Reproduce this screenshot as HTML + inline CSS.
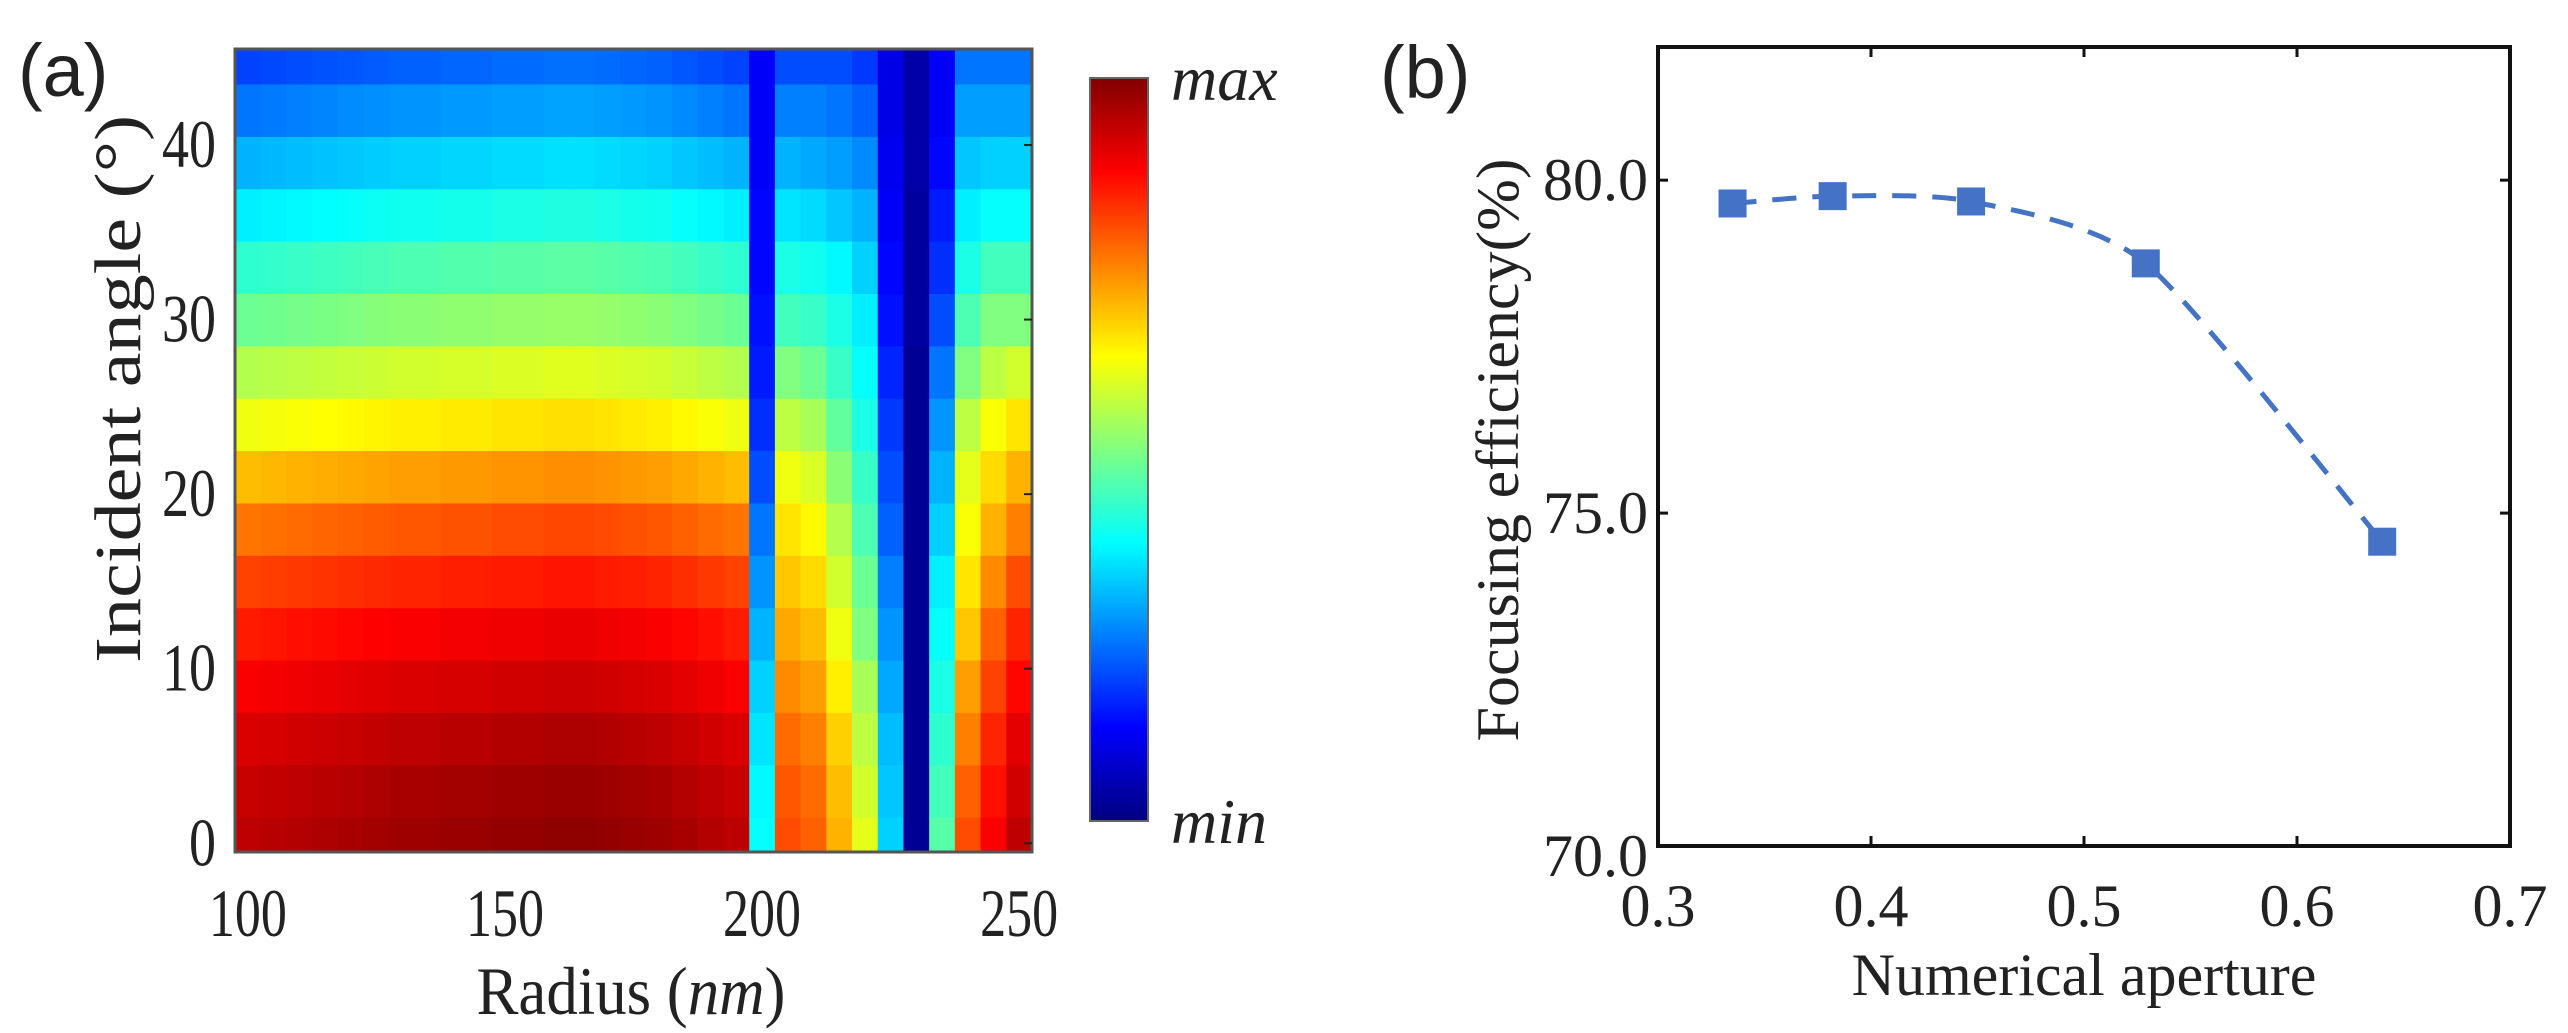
<!DOCTYPE html>
<html><head><meta charset="utf-8"><style>
html,body{margin:0;padding:0;background:#fff;}
svg{display:block;}
text{font-family:"Liberation Serif",serif;fill:#222;}
</style></head><body>
<svg id="fig" width="2568" height="1033" viewBox="0 0 2568 1033" xmlns="http://www.w3.org/2000/svg">
<defs>
<linearGradient id="jetgrad" x1="0" y1="1" x2="0" y2="0">
<stop offset="0" stop-color="#000080"/><stop offset="0.125" stop-color="#0000ff"/><stop offset="0.375" stop-color="#00ffff"/><stop offset="0.5" stop-color="#80ff80"/><stop offset="0.625" stop-color="#ffff00"/><stop offset="0.875" stop-color="#ff0000"/><stop offset="1" stop-color="#800000"/>
</linearGradient>
<clipPath id="hmclip"><rect x="235" y="49" width="797" height="803"/></clipPath>
</defs>
<text x="18" y="96" style="font-family:'Liberation Sans',sans-serif;font-size:74px">(a)</text>
<text x="1380" y="98" style="font-family:'Liberation Sans',sans-serif;font-size:74px">(b)</text>
<g id="heatmap" clip-path="url(#hmclip)"></g>
<rect x="235" y="49" width="797" height="803" fill="none" stroke="#555" stroke-width="3"/>
<g id="hmaxes"></g>
<text x="631" y="1014" font-size="68" text-anchor="middle" textLength="309" lengthAdjust="spacingAndGlyphs">Radius (<tspan font-style="italic">nm</tspan>)</text>
<text transform="translate(140,389) rotate(-90)" font-size="66" text-anchor="middle" textLength="548" lengthAdjust="spacingAndGlyphs">Incident angle (°)</text>
<rect x="1090" y="78" width="58" height="743" fill="url(#jetgrad)" stroke="#666" stroke-width="2"/>
<text x="1171" y="100" font-size="64" font-style="italic">max</text>
<text x="1171" y="843" font-size="64" font-style="italic">min</text>
<g id="lineplot"></g>
<text x="2084" y="995" font-size="60" text-anchor="middle">Numerical aperture</text>
<text transform="translate(1518,450) rotate(-90)" font-size="60" text-anchor="middle" textLength="583" lengthAdjust="spacingAndGlyphs">Focusing efficiency(%)</text>
</svg>
<script>
// ---- Panel (a) data ----
const radii = [100,105,110,115,120,125,130,135,140,145,150,155,160,165,170,175,180,185,190,195,200,205,210,215,220,225,230,235,240,245,250];
const angles = [0,3,6,9,12,15,18,21,24,27,30,33,36,39,42,45];
const leftRowProfile = [0.96,0.95,0.93,0.90,0.87,0.83,0.78,0.71,0.63,0.57,0.50,0.44,0.38,0.32,0.26,0.21];
const leftColOffset = [-0.02,-0.015,-0.01,-0.005,0,0.005,0.01,0.01,0.015,0.015,0.02,0.02,0.025,0.025,0.02,0.015,0.01,0,-0.01,-0.02];
const stripe200 = [0.38,0.37,0.35,0.33,0.30,0.27,0.24,0.20,0.17,0.15,0.14,0.13,0.13,0.12,0.12,0.12];
const stripe205 = [0.80,0.79,0.77,0.74,0.71,0.68,0.65,0.61,0.56,0.50,0.44,0.40,0.35,0.30,0.25,0.20];
const stripe210 = [0.78,0.77,0.75,0.72,0.69,0.66,0.63,0.59,0.54,0.48,0.43,0.39,0.34,0.29,0.25,0.20];
const stripe215 = [0.70,0.69,0.67,0.64,0.61,0.58,0.55,0.51,0.47,0.43,0.40,0.37,0.32,0.28,0.24,0.20];
const stripe220 = [0.60,0.58,0.56,0.54,0.50,0.48,0.45,0.43,0.40,0.38,0.36,0.33,0.30,0.26,0.22,0.18];
const stripe225 = [0.33,0.32,0.31,0.29,0.27,0.25,0.22,0.20,0.18,0.16,0.14,0.13,0.12,0.11,0.10,0.10];
const stripe230 = [0.02,0.02,0.02,0.02,0.02,0.02,0.02,0.02,0.02,0.02,0.03,0.03,0.03,0.04,0.04,0.04];
const stripe235 = [0.46,0.44,0.42,0.40,0.38,0.36,0.33,0.30,0.27,0.24,0.20,0.17,0.15,0.13,0.12,0.12];
const stripe240 = [0.80,0.78,0.75,0.72,0.68,0.65,0.62,0.60,0.56,0.50,0.45,0.40,0.36,0.32,0.28,0.24];
const stripe245 = [0.88,0.86,0.84,0.81,0.78,0.74,0.70,0.66,0.62,0.56,0.50,0.44,0.38,0.33,0.28,0.24];
const stripe250 = [0.94,0.92,0.90,0.87,0.84,0.80,0.75,0.70,0.65,0.58,0.50,0.44,0.38,0.33,0.28,0.24];
const stripeCols = [stripe200,stripe205,stripe210,stripe215,stripe220,stripe225,stripe230,stripe235,stripe240,stripe245,stripe250];
const xTicksA = [100,150,200,250];
const yTicksA = [0,10,20,30,40];
// ---- Panel (b) data ----
const naValues = [0.335,0.382,0.447,0.529,0.640];
const efficiency = [79.65,79.76,79.68,78.75,74.57];
const xTicksB = [0.3,0.4,0.5,0.6,0.7];
const xTickLabelsB = ["0.3","0.4","0.5","0.6","0.7"];
const yTicksB = [70,75,80];
const yTickLabelsB = ["70.0","75.0","80.0"];

const NS="http://www.w3.org/2000/svg";
function mk(tag,attrs,parent){const e=document.createElementNS(NS,tag);for(const k in attrs)e.setAttribute(k,attrs[k]);parent.appendChild(e);return e;}
function jet(v){const c=t=>Math.round(255*Math.max(0,Math.min(1,t)));return `rgb(${c(1.5-Math.abs(4*v-3))},${c(1.5-Math.abs(4*v-2))},${c(1.5-Math.abs(4*v-1))})`;}

const xA = r => 235 + (r-97.5)*(797/155);
const yA = a => 852 - (a+0.5)*(803/46);
const hm=document.getElementById('heatmap');
radii.forEach((r,i)=>{
  angles.forEach((a,j)=>{
    const v = i<20 ? leftRowProfile[j]+leftColOffset[i] : stripeCols[i-20][j];
    const y1=yA(Math.min(45.5,a+1.5)), y2=yA(Math.max(-0.5,a-1.5));
    const c=mk('rect',{x:xA(r-2.5),y:y1,width:xA(r+2.5)-xA(r-2.5)+0.6,height:y2-y1+0.6,fill:jet(v)},hm);
    
    
  });
});
const ax=document.getElementById('hmaxes');
xTicksA.forEach(t=>{
  const l=mk('text',{x:xA(t),y:936,'font-size':68,'text-anchor':'middle',textLength:78,lengthAdjust:'spacingAndGlyphs'},ax);l.textContent=t;
  
  
});
yTicksA.forEach(t=>{
  const l=mk('text',{x:216,y:yA(t)+22,'font-size':68,'text-anchor':'end',textLength:t?54:27,lengthAdjust:'spacingAndGlyphs'},ax);l.textContent=t;
  
  
  const k=mk('line',{x1:1024,x2:1032,y1:yA(t),y2:yA(t),stroke:'#222','stroke-width':2},ax);
  
  
});

const L=1658,R=2510,T=47,B=846;
const xB = v => L + (v-0.3)/(0.4)*(R-L);
const yB = v => B - (v-70)/12*(B-T);
const lp=document.getElementById('lineplot');
const fr=mk('rect',{x:L,y:T,width:R-L,height:B-T,fill:'none',stroke:'#111','stroke-width':4},lp);


xTicksB.forEach((t,i)=>{
  const x=xB(t);
  if(i>0&&i<xTicksB.length-1){
    const k1=mk('line',{x1:x,x2:x,y1:B,y2:B-10,stroke:'#111','stroke-width':3},lp);
    
    
    const k2=mk('line',{x1:x,x2:x,y1:T,y2:T+10,stroke:'#111','stroke-width':3},lp);
    
    
  }
  const l=mk('text',{x:x,y:926,'font-size':60,'text-anchor':'middle'},lp);l.textContent=xTickLabelsB[i];
  
  
});
yTicksB.forEach((t,i)=>{
  const y=yB(t);
  if(t>70){
    const k1=mk('line',{x1:L,x2:L+10,y1:y,y2:y,stroke:'#111','stroke-width':3},lp);
    
    
    const k2=mk('line',{x1:R,x2:R-10,y1:y,y2:y,stroke:'#111','stroke-width':3},lp);
    
    
  }
  const l=mk('text',{x:1648,y:y+(t===70?30:20),'font-size':60,'text-anchor':'end'},lp);l.textContent=yTickLabelsB[i];
  
  
});
const pts=naValues.map((v,i)=>[xB(v),yB(efficiency[i])]);
const ten=0.12;
let d=`M${pts[0][0]},${pts[0][1]}`;
for(let i=0;i<pts.length-1;i++){
  const p0=pts[Math.max(0,i-1)],p1=pts[i],p2=pts[i+1],p3=pts[Math.min(pts.length-1,i+2)];
  const c1=[p1[0]+(p2[0]-p0[0])*ten,p1[1]+(p2[1]-p0[1])*ten],c2=[p2[0]-(p3[0]-p1[0])*ten,p2[1]-(p3[1]-p1[1])*ten];
  d+=` C${c1[0]},${c1[1]} ${c2[0]},${c2[1]} ${p2[0]},${p2[1]}`;
}
const ln=mk('path',{d:d,fill:'none',stroke:'#4472c4','stroke-width':5,'stroke-dasharray':'24 16'},lp);


pts.forEach(p=>{
  const m=mk('rect',{x:p[0]-14,y:p[1]-14,width:28,height:28,fill:'#4472c4'},lp);
  
  
});
</script>
</body></html>
